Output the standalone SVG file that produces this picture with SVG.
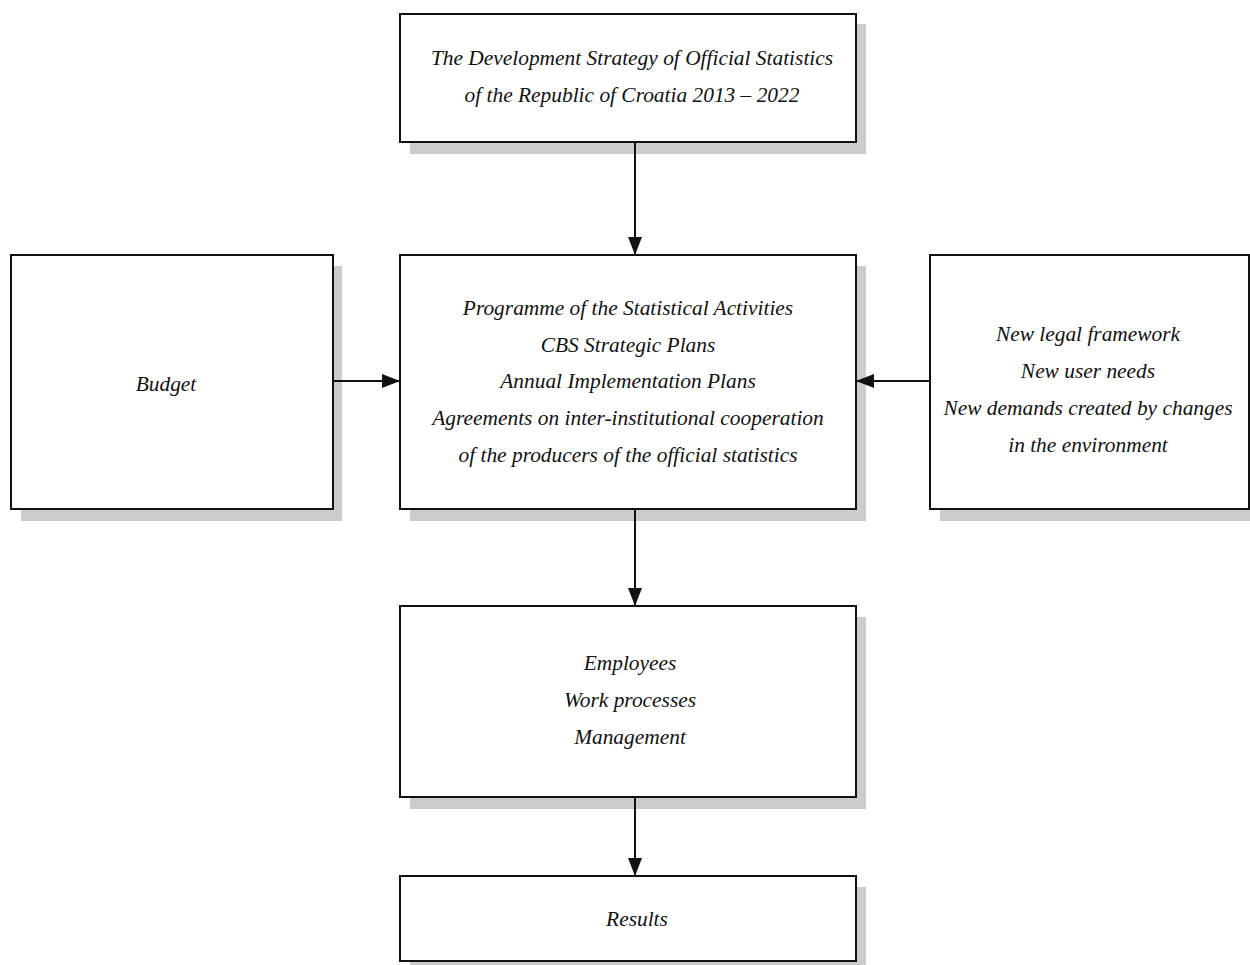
<svg xmlns="http://www.w3.org/2000/svg" width="1250" height="965" viewBox="0 0 1250 965">
<style>
.sh{fill:#cccccc;stroke:none}
.bx{fill:#ffffff;stroke:#111111;stroke-width:2}
.t{font-family:"Liberation Serif","Times New Roman",serif;font-style:italic;font-size:21.4px;fill:#111111;text-anchor:middle}
.c{stroke:#111111;stroke-width:2;fill:none}
</style>
<defs>
<marker id="ah" markerWidth="18" markerHeight="14" refX="18" refY="7" orient="auto" markerUnits="userSpaceOnUse">
<path d="M0,0 L18,7 L0,14 Z" fill="#111111"/>
</marker>
</defs>
<rect width="1250" height="965" fill="#ffffff"/>
<g id="strategy">
<rect class="sh" x="410" y="24" width="456" height="130"/>
<rect class="bx" x="400" y="14" width="456" height="128"/>
<text class="t" x="632" y="65">The Development Strategy of Official Statistics</text>
<text class="t" x="632" y="102">of the Republic of Croatia 2013 – 2022</text>
</g>
<g id="budget">
<rect class="sh" x="21" y="266" width="321" height="255"/>
<rect class="bx" x="11" y="255" width="322" height="254"/>
<text class="t" x="166" y="391">Budget</text>
</g>
<g id="programme">
<rect class="sh" x="410" y="266" width="456" height="255"/>
<rect class="bx" x="400" y="255" width="456" height="254"/>
<text class="t" x="628" y="315">Programme of the Statistical Activities</text>
<text class="t" x="628" y="352">CBS Strategic Plans</text>
<text class="t" x="628" y="388">Annual Implementation Plans</text>
<text class="t" x="628" y="425">Agreements on inter-institutional cooperation</text>
<text class="t" x="628" y="462">of the producers of the official statistics</text>
</g>
<g id="environment">
<rect class="sh" x="940" y="266" width="320" height="255"/>
<rect class="bx" x="930" y="255" width="319" height="254"/>
<text class="t" x="1088" y="341">New legal framework</text>
<text class="t" x="1088" y="378">New user needs</text>
<text class="t" x="1088" y="415">New demands created by changes</text>
<text class="t" x="1088" y="452">in the environment</text>
</g>
<g id="resources">
<rect class="sh" x="410" y="617" width="456" height="192"/>
<rect class="bx" x="400" y="606" width="456" height="191"/>
<text class="t" x="630" y="670">Employees</text>
<text class="t" x="630" y="707">Work processes</text>
<text class="t" x="630" y="744">Management</text>
</g>
<g id="results">
<rect class="sh" x="410" y="887" width="456" height="86"/>
<rect class="bx" x="400" y="876" width="456" height="85"/>
<text class="t" x="637" y="926">Results</text>
</g>
<g id="connectors">
<line class="c" x1="635" y1="143" x2="635" y2="255" marker-end="url(#ah)"/>
<line class="c" x1="334" y1="381" x2="400" y2="381" marker-end="url(#ah)"/>
<line class="c" x1="929" y1="381" x2="856" y2="381" marker-end="url(#ah)"/>
<line class="c" x1="635" y1="510" x2="635" y2="606" marker-end="url(#ah)"/>
<line class="c" x1="635" y1="798" x2="635" y2="876" marker-end="url(#ah)"/>
</g>
</svg>
